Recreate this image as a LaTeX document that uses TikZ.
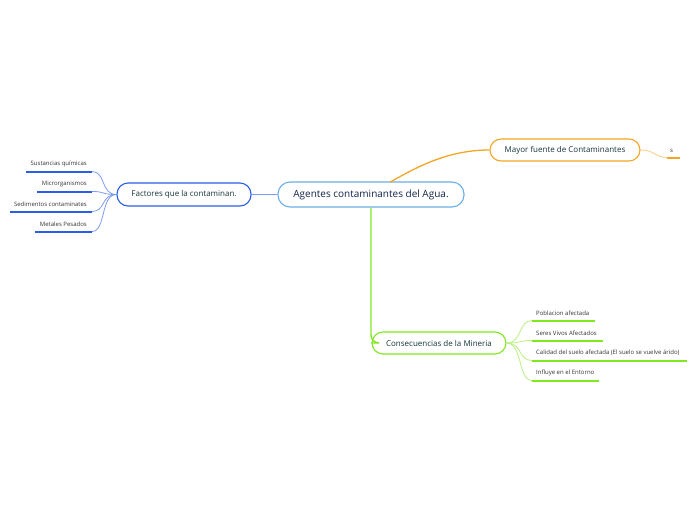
\documentclass[tikz,border=0pt]{standalone}
\usepackage{fontspec}
\setmainfont{Open Sans}
\definecolor{cblue}{HTML}{6AAEE8}
\definecolor{fblue}{HTML}{2B5EE8}
\definecolor{lblue}{HTML}{7C9CF2}
\definecolor{orng}{HTML}{F5A524}
\definecolor{lorng}{HTML}{F9CC80}
\definecolor{grn}{HTML}{80E81E}
\definecolor{lgrn}{HTML}{B8F080}
\definecolor{ntext}{HTML}{16363A}
\definecolor{ctext}{HTML}{12244A}
\definecolor{ltext}{HTML}{333333}
\tikzset{
  mainbox/.style={draw=cblue, line width=1.1pt, fill=white, rounded corners=12pt,
    minimum width=186pt, minimum height=25pt, inner sep=0pt, font=\fontsize{10}{12}\selectfont, text=ctext},
  subbox/.style={draw=#1, line width=1.1pt, fill=white, rounded corners=11pt,
    minimum height=22pt, inner sep=0pt, font=\fontsize{8}{10}\selectfont, text=ntext},
  leafR/.style={anchor=south east, inner xsep=5pt, inner ysep=4.5pt,
    font=\fontsize{6}{7}\selectfont, text=ltext},
  leafL/.style={anchor=south west, inner xsep=4pt, inner ysep=4.5pt,
    font=\fontsize{6}{7}\selectfont, text=ltext},
  twig/.style={line width=0.8pt},
}
\begin{document}
\begin{tikzpicture}[x=1pt,y=-1pt]
\useasboundingbox (0,0) rectangle (696,520);
% main nodes
\node[mainbox] (cen) at (371,194.5) {Agentes contaminantes del Agua.};
\node[subbox=fblue, minimum width=134pt, minimum height=23pt] (fac) at (184,194.5) {Factores que la contaminan.};
\node[subbox=orng, minimum width=150pt] (may) at (565,150) {Mayor fuente de Contaminantes};
\node[subbox=grn, minimum width=134pt] (con) at (439,343) {Consecuencias de la Mineria};
% main connectors
\draw[lblue, line width=1.4pt] (cen.west) -- (fac.east);
\draw[orng, line width=1.3pt] (390,182.2) .. controls (420,165) and (450,150) .. (may.west);
\draw[grn, line width=1.4pt, rounded corners=8pt] (cen.south) -- (371,343) -- (con.west);
% Factores leaves
\node[leafR] (f1) at (92,171.5) {Sustancias químicas};
\node[leafR] (f2) at (92,191.5) {Microrganismos};
\node[leafR] (f3) at (92,211.5) {Sedimentos contaminates};
\node[leafR] (f4) at (92,231.5) {Metales Pesados};
\coordinate (u1) at (26,171.5);
\coordinate (u2) at (37,191.5);
\coordinate (u3) at (10,211.5);
\coordinate (u4) at (35,231.5);
\foreach \n in {1,2,3,4}{
  \draw[twig, lblue] (fac.west) .. controls +(-16,0) and +(14,0) .. (f\n.south east);
  \path[fill=fblue] ([yshift=-1pt]f\n.south east) rectangle ([yshift=1pt]u\n);
}
% Mayor leaf
\node[leafL, inner xsep=3pt] (m1) at (667,157.5) {s};
\coordinate (um) at (680,157.5);
\draw[twig, lorng] (may.east) .. controls +(14,0) and +(-12,0) .. (m1.south west);
\path[fill=orng] ([yshift=-1pt]m1.south west) rectangle ([yshift=1pt]um);
% Consecuencias leaves
\node[leafL] (c1) at (532,320.5) {Poblacion afectada};
\node[leafL] (c2) at (532,340.5) {Seres Vivos Afectados};
\node[leafL] (c3) at (532,360.5) {Calidad del suelo afectada (El suelo se vuelve árido)};
\node[leafL] (c4) at (532,380.5) {Influye en el Entorno};
\coordinate (v1) at (595,320.5);
\coordinate (v2) at (603,340.5);
\coordinate (v3) at (687,360.5);
\coordinate (v4) at (599,380.5);
\foreach \n in {1,2,3,4}{
  \draw[twig, lgrn] (con.east) .. controls +(16,0) and +(-14,0) .. (c\n.south west);
  \path[fill=grn] ([yshift=-1pt]c\n.south west) rectangle ([yshift=1pt]v\n);
}
\end{tikzpicture}
\end{document}
